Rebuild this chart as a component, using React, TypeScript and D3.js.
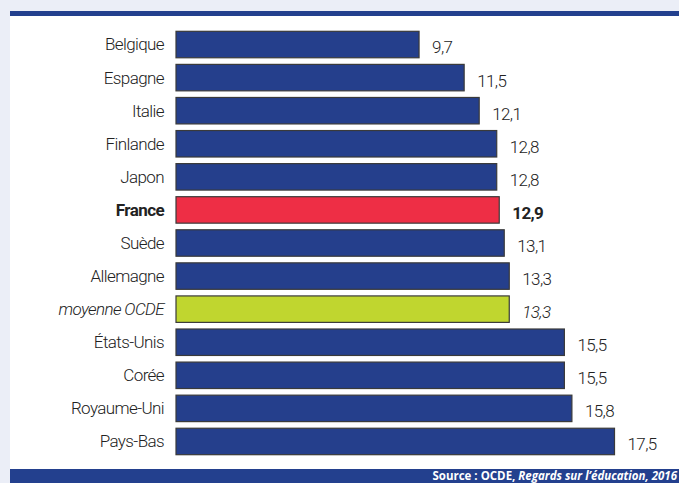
import { useEffect, useRef } from 'react'
import * as d3 from 'd3'

const countries = [
  'Belgique', 'Espagne', 'Italie', 'Finlande', 'Japon', 'France', 'Suède',
  'Allemagne', 'moyenne OCDE', 'États-Unis', 'Corée', 'Royaume-Uni', 'Pays-Bas',
]
const values = [9.7, 11.5, 12.1, 12.8, 12.8, 12.9, 13.1, 13.3, 13.3, 15.5, 15.5, 15.8, 17.5]
const highlight = 'France'
const average = 'moyenne OCDE'

const W = 679
const H = 483
const FONT = 'Roboto, sans-serif'

const App = () => {
  const ref = useRef<SVGSVGElement>(null)

  useEffect(() => {
    if (!ref.current) return
    const svg = d3.select(ref.current)
    svg.selectAll('*').remove()

    //background + white panel
    svg.append('rect').attr('width', W).attr('height', H).attr('fill', '#ebeef7')
    svg.append('rect').attr('x', 10).attr('y', 11).attr('width', W - 10).attr('height', H - 11).attr('fill', '#fff')
    svg.append('rect').attr('x', 10).attr('y', 11).attr('width', W - 10).attr('height', 5).attr('fill', '#23408e')
    svg.append('rect').attr('x', 10).attr('y', 469).attr('width', W - 10).attr('height', 14).attr('fill', '#23408e')

    const x = d3.scaleLinear().domain([0, 17.5]).range([176, 614.5])
    const y = d3.scaleBand().domain(countries).range([28, 458]).paddingInner(0.2).paddingOuter(0.1)

    const fill = (c: string) => c === highlight ? '#ee2e45' : c === average ? '#c0d62f' : '#253f8c'

    const rows = svg.append('g')
      .selectAll('g')
      .data(countries.map((c, i) => ({ c, v: values[i] })))
      .join('g')

    rows.append('rect')
      .attr('x', x(0))
      .attr('y', d => y(d.c)!)
      .attr('width', d => x(d.v) - x(0))
      .attr('height', y.bandwidth())
      .attr('fill', d => fill(d.c))
      .attr('stroke', '#3a3a3a')
      .attr('stroke-width', 1.2)

    //country labels
    rows.append('text')
      .attr('x', 164)
      .attr('y', d => y(d.c)! + y.bandwidth() / 2)
      .attr('dy', '0.35em')
      .attr('text-anchor', 'end')
      .attr('font-family', FONT)
      .attr('font-size', 17)
      .attr('fill', '#222')
      .attr('font-weight', d => d.c === highlight ? 'bold' : 300)
      .attr('font-style', d => d.c === average ? 'italic' : 'normal')
      .attr('letter-spacing', -0.6)
      .text(d => d.c)

    //value labels
    rows.append('text')
      .attr('x', d => x(d.v) + 13)
      .attr('y', d => y(d.c)! + y.bandwidth() / 2 + 3)
      .attr('dy', '0.35em')
      .attr('font-family', FONT)
      .attr('font-size', 17)
      .attr('fill', '#222')
      .attr('font-weight', d => d.c === highlight ? 'bold' : 300)
      .attr('font-style', d => d.c === average ? 'italic' : 'normal')
      .attr('letter-spacing', -0.6)
      .text(d => d3.format('.1f')(d.v).replace('.', ','))

    //source
    const src = svg.append('text')
      .attr('x', 677)
      .attr('y', 480)
      .attr('text-anchor', 'end')
      .attr('font-family', '"Open Sans", sans-serif')
      .attr('font-size', 11.5)
      .attr('font-weight', 'bold')
      .attr('fill', '#fff')
    src.append('tspan').text('Source : OCDE, ')
    src.append('tspan').attr('font-style', 'italic').text('Regards sur l’éducation, 2016')
  }, [])

  return <svg ref={ref} width={W} height={H} style={{ position: 'absolute', left: 0, top: 0 }} />
}

export default App
